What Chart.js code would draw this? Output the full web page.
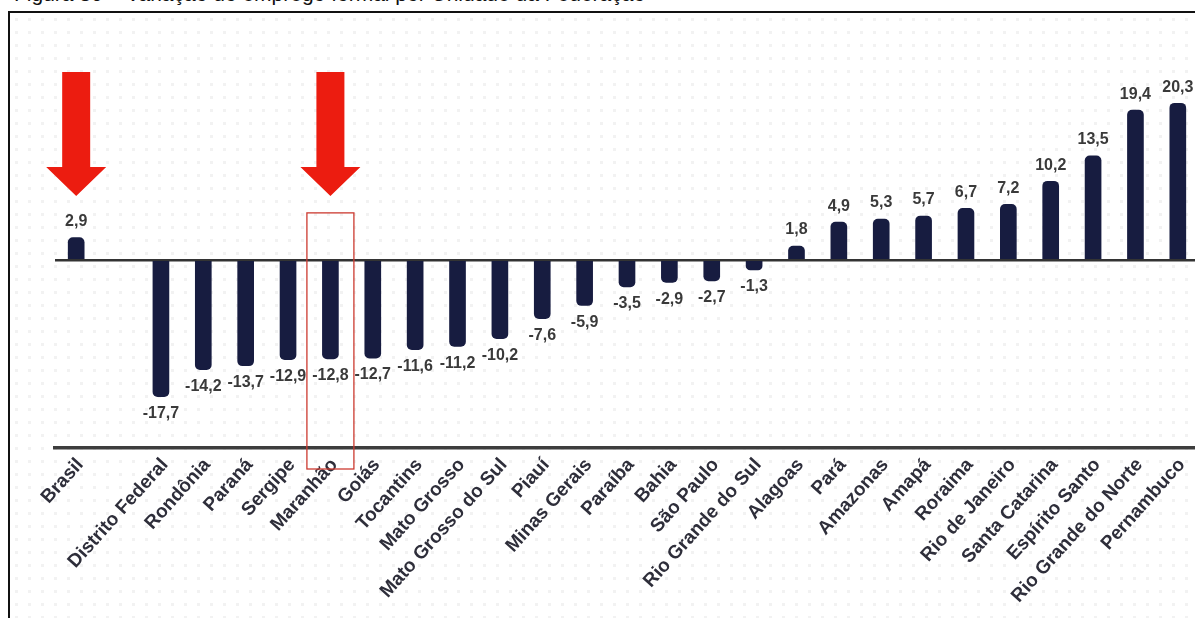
<!DOCTYPE html>
<html lang="pt-BR">
<head>
<meta charset="utf-8">
<title>Variação por UF</title>
<script src="https://cdn.jsdelivr.net/npm/chart.js@4.4.1/dist/chart.umd.min.js"></script>
<style>
  html, body { margin: 0; padding: 0; background: #ffffff; overflow: hidden; }
  body { width: 1195px; height: 618px; position: relative; }
  #caption {
    position: absolute; left: 14px; top: -18px;
    font-family: "Liberation Sans", Arial, sans-serif; font-size: 21px; color: #111;
    white-space: nowrap;
  }
  #frame {
    position: absolute; left: 8px; top: 11px; width: 1200px; height: 620px;
    border-left: 2px solid #111; border-top: 2px solid #111;
    background-image: radial-gradient(circle, rgba(0,0,0,0.05) 1.4px, transparent 1.8px);
    background-size: 13px 13px;
  }
  #wrap { position: absolute; left: 0; top: 0; width: 1205px; height: 618px; }
</style>
</head>
<body>
<div id="caption">Figura 30 – Variação do emprego formal por Unidade da Federação</div>
<div id="frame"></div>
<div id="wrap"><canvas id="chart"></canvas></div>
<script>
// Categories: national total first, a blank slot, then the states in ascending order
const categories = [
  'Brasil', '', 'Distrito Federal', 'Rondônia', 'Paraná', 'Sergipe', 'Maranhão', 'Goiás',
  'Tocantins', 'Mato Grosso', 'Mato Grosso do Sul', 'Piauí', 'Minas Gerais', 'Paraíba',
  'Bahia', 'São Paulo', 'Rio Grande do Sul', 'Alagoas', 'Pará', 'Amazonas', 'Amapá',
  'Roraima', 'Rio de Janeiro', 'Santa Catarina', 'Espírito Santo', 'Rio Grande do Norte',
  'Pernambuco'
];

// Variation (%) per category; null keeps the blank slot empty
const variation = [
  2.9, null, -17.7, -14.2, -13.7, -12.9, -12.8, -12.7,
  -11.6, -11.2, -10.2, -7.6, -5.9, -3.5,
  -2.9, -2.7, -1.3, 1.8, 4.9, 5.3, 5.7,
  6.7, 7.2, 10.2, 13.5, 19.4,
  20.3
];

// Categories pointed at by the red arrows, and the one framed by the red box
const arrowTargets = ['Brasil', 'Maranhão'];
const boxedTarget = ['Maranhão'];

const LABEL_FONT = '"Liberation Sans", Arial, sans-serif';

const fmt = v => v.toFixed(1).replace('.', ',');

// Value labels above positive bars and below negative ones
const valueLabels = {
  id: 'valueLabels',
  afterDatasetsDraw(chart) {
    const ctx = chart.ctx;
    const meta = chart.getDatasetMeta(0);
    ctx.save();
    ctx.font = 'bold 16px ' + LABEL_FONT;
    ctx.fillStyle = '#3a3a3a';
    ctx.textAlign = 'center';
    meta.data.forEach((bar, i) => {
      const v = variation[i];
      if (v === null || v === undefined) return;
      if (v >= 0) {
        ctx.textBaseline = 'bottom';
        ctx.fillText(fmt(v), bar.x, bar.y - 8);
      } else {
        ctx.textBaseline = 'top';
        ctx.fillText(fmt(v), bar.x, bar.y + 9);
      }
    });
    ctx.restore();
  }
};

// Red down-arrows and the highlight box
const highlights = {
  id: 'highlights',
  afterDraw(chart) {
    const ctx = chart.ctx;
    const xs = chart.scales.x;
    const ys = chart.scales.y;
    const area = chart.chartArea;
    ctx.save();
    arrowTargets.forEach(name => {
      const cx = xs.getPixelForValue(categories.indexOf(name));
      const top = 72, neck = 167, tip = 196, shaft = 14, head = 30;
      ctx.beginPath();
      ctx.moveTo(cx - shaft, top);
      ctx.lineTo(cx + shaft, top);
      ctx.lineTo(cx + shaft, neck);
      ctx.lineTo(cx + head, neck);
      ctx.lineTo(cx, tip);
      ctx.lineTo(cx - head, neck);
      ctx.lineTo(cx - shaft, neck);
      ctx.closePath();
      ctx.fillStyle = '#ec1c10';
      ctx.fill();
    });
    boxedTarget.forEach(name => {
      const cx = xs.getPixelForValue(categories.indexOf(name));
      const top = ys.getPixelForValue(6.1);
      const bottom = area.bottom + 21;
      ctx.strokeStyle = '#cc3a30';
      ctx.lineWidth = 1.3;
      ctx.strokeRect(cx - 23.5, top, 47, bottom - top);
    });
    ctx.restore();
  }
};

new Chart(document.getElementById('chart'), {
  type: 'bar',
  data: {
    labels: categories,
    datasets: [{
      data: variation,
      backgroundColor: '#171c40',
      barThickness: 16,
      borderRadius: 5,
      borderSkipped: 'start'
    }]
  },
  options: {
    responsive: true,
    maintainAspectRatio: false,
    animation: false,
    layout: { padding: { left: 55, right: 6, top: 60, bottom: 0 } },
    plugins: { legend: { display: false }, tooltip: { enabled: false } },
    scales: {
      x: {
        grid: { display: false, drawTicks: false },
        border: { display: true, color: '#3d3d3d', width: 3.5 },
        ticks: {
          autoSkip: false,
          minRotation: 48,
          maxRotation: 48,
          padding: 6,
          labelOffset: 4,
          color: '#2e2e3a',
          font: { family: LABEL_FONT, size: 19, weight: 'bold' }
        },
        afterFit(scale) {
          scale.height = 170;
          scale.paddingLeft = 0;
          scale.paddingRight = 0;
        }
      },
      y: {
        min: -24.35,
        max: 25.9,
        ticks: { display: false },
        border: { display: false },
        grid: {
          drawTicks: false,
          lineWidth: 2.5,
          color: c => (c.tick && c.tick.value === 0 ? '#333333' : 'rgba(0,0,0,0)')
        },
        afterFit(scale) { scale.width = 0; }
      }
    }
  },
  plugins: [valueLabels, highlights]
});
</script>
</body>
</html>
